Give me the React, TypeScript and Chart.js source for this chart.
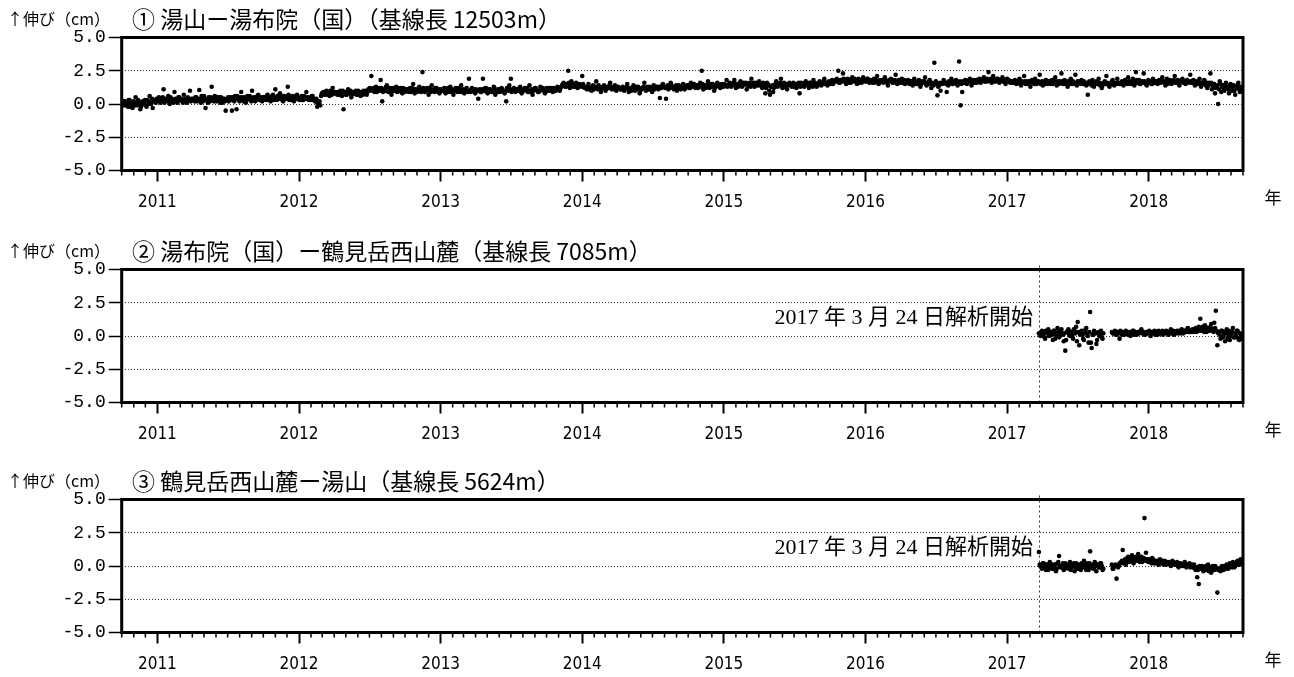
import React, { useEffect, useRef } from "react";
import { Chart, registerables } from "chart.js";

Chart.register(...registerables);

// ---------- data ----------
// Two interleaved observation series per baseline: "A" on the step days, "B" two days later.
const P1_START = "2010-10-01";
const P23_START = "2017-03-24";
const STEP_DAYS = 4;
const B_OFFSET_DAYS = 2;
const X_MIN_DATE = "2010-10-01";
const X_MAX_DATE = "2018-09-01";
const YEAR_TICKS = [2011, 2012, 2013, 2014, 2015, 2016, 2017, 2018];
const Y_TICKS = [-5, -2.5, 0, 2.5, 5];
const TITLES = [
  "① 湯山ー湯布院（国）（基線長 12503m）",
  "② 湯布院（国）ー鶴見岳西山麓（基線長 7085m）",
  "③ 鶴見岳西山麓ー湯山（基線長 5624m）",
];
const Y_UNIT = "↑伸び（cm）";
const X_UNIT = "年";
const START_NOTE = "2017 年 3 月 24 日解析開始";

const p1ValuesA: number[] = [
  0.1,-0.1,0.2,0.0,-0.2,0.3,0.1,-0.3,0.0,0.5,-0.1,0.2,-0.4,0.1,0.0,0.3,-0.2,0.2,0.6,0.0,-0.3,0.2,0.1,
  0.3,0.5,0.1,0.4,1.1,0.2,0.3,0.6,0.0,0.4,0.2,0.9,0.3,0.1,0.5,0.3,0.2,0.7,0.4,0.1,0.3,1.0,0.4,
  0.4,0.2,0.5,0.3,1.05,0.1,0.4,0.6,-0.3,0.3,0.5,0.2,1.3,0.4,0.6,0.2,0.5,0.3,0.5,0.1,0.4,-0.5,0.3,
  0.2,0.5,-0.5,0.3,0.6,-0.4,0.4,0.2,0.9,0.5,0.3,0.1,0.6,0.4,0.3,1.0,0.5,0.2,0.4,0.7,0.3,0.5,0.4,
  0.5,0.3,0.7,0.4,0.2,0.6,0.5,1.1,0.3,0.4,0.8,0.5,0.2,0.6,0.4,1.3,0.3,0.5,0.6,0.2,0.4,0.7,0.5,
  0.4,0.6,0.3,0.5,0.9,0.4,0.5,0.3,0.6,0.4,0.2,-0.2,0.1,-0.1,0.8,0.9,0.7,1.0,0.8,0.6,0.9,1.2,0.8,
  0.9,0.7,0.8,1.0,0.6,-0.4,0.9,0.7,1.1,0.8,0.5,0.9,0.8,1.0,0.7,0.9,0.6,0.8,1.0,0.9,0.7,1.1,1.2,
  2.1,1.1,0.9,1.3,1.0,1.2,1.8,0.2,1.1,1.0,1.4,0.9,1.2,0.7,1.0,1.1,1.3,0.9,1.0,1.2,0.8,1.1,1.0,
  1.1,0.9,1.2,1.0,1.5,0.8,1.1,1.0,1.3,0.9,2.4,1.1,1.0,1.2,0.7,1.1,1.4,1.0,0.9,1.2,1.1,0.8,1.0,
  1.0,1.2,0.8,1.1,0.9,1.3,1.0,0.7,1.1,1.0,1.2,0.9,1.4,1.0,0.8,1.1,1.0,1.9,0.9,1.2,1.1,0.8,1.0,
  0.4,1.1,0.9,1.9,1.0,1.2,0.8,1.1,1.0,0.9,1.3,0.7,1.0,1.1,0.9,1.2,1.0,0.8,0.2,1.1,1.4,1.9,1.0,
  1.2,0.9,1.1,1.0,1.3,0.8,1.0,1.2,1.1,0.9,1.4,1.0,0.7,1.1,1.2,1.0,0.9,1.3,1.1,1.0,0.8,1.2,1.1,
  1.0,1.2,0.9,1.1,1.0,1.3,1.1,1.2,1.4,1.6,1.3,1.5,2.5,1.2,1.7,1.4,1.3,1.6,1.2,1.5,1.4,2.1,1.3,
  1.3,1.1,1.5,1.2,1.0,1.4,1.2,1.7,1.1,1.3,0.9,1.2,1.4,1.0,1.3,1.2,1.6,1.1,1.2,1.4,1.0,1.3,1.2,
  1.1,1.3,1.0,1.2,1.5,0.9,1.2,1.1,1.4,1.0,1.2,1.3,0.8,1.1,1.2,1.6,1.0,1.3,1.1,1.2,0.9,1.4,1.2,
  1.3,1.1,0.45,1.2,1.5,1.3,0.4,1.4,1.2,1.6,1.3,1.1,1.3,1.0,1.4,1.2,1.3,1.5,1.1,1.3,1.4,1.2,1.6,
  1.3,1.5,1.2,1.4,1.3,1.6,2.5,1.1,1.4,1.3,1.7,1.2,1.4,1.5,1.0,1.3,1.6,1.4,1.2,1.5,1.3,1.4,1.8,
  1.4,1.6,1.3,1.5,1.8,1.2,1.5,1.4,1.7,1.3,1.6,1.5,1.1,1.4,1.6,1.9,1.5,1.3,1.6,1.4,1.7,1.5,1.2,
  1.5,0.8,1.6,1.4,0.7,1.3,0.9,1.4,1.7,1.3,1.5,1.9,1.2,1.6,1.4,1.1,1.5,1.5,1.3,1.6,1.4,1.2,1.5,
  0.8,1.6,1.5,1.3,1.7,1.5,1.2,1.6,1.4,1.8,1.5,1.3,1.6,1.7,1.4,1.5,1.9,1.6,1.4,1.7,1.5,1.8,1.6,
  1.7,1.9,2.5,1.6,1.8,2.3,1.7,1.5,1.9,1.8,1.6,2.0,1.7,1.8,1.5,1.9,1.7,1.6,2.0,1.8,1.7,1.9,1.6,
  1.8,1.6,1.9,1.7,2.1,1.5,1.8,1.7,1.6,2.0,1.7,1.4,1.8,1.9,1.6,1.7,2.2,1.5,1.8,1.6,1.9,1.7,1.5,
  1.6,1.8,1.5,1.7,1.4,1.9,1.6,1.5,1.8,1.3,1.7,1.6,2.0,1.4,1.6,1.8,1.2,1.5,3.1,1.7,0.65,1.4,1.0,
  1.5,1.8,1.6,0.9,1.4,1.7,1.9,1.5,1.6,1.8,1.4,3.2,-0.1,0.9,1.6,1.8,1.5,1.7,1.9,1.4,1.7,1.6,1.8,
  1.7,1.9,1.6,1.8,2.0,1.7,1.9,2.4,1.8,1.6,2.1,1.7,1.8,1.9,1.6,1.8,2.0,1.7,1.5,1.9,1.8,1.6,1.7,
  1.6,1.8,1.5,1.7,1.9,1.4,1.6,2.1,1.5,1.7,1.6,1.3,1.8,1.6,1.9,1.5,1.7,2.2,1.6,1.4,1.7,1.8,1.5,
  1.7,1.5,1.8,1.6,2.0,1.4,1.6,1.7,2.3,1.5,1.8,1.6,1.3,1.7,1.9,1.5,1.6,2.2,1.4,1.7,1.6,1.8,1.5,
  1.6,1.4,0.7,1.7,1.5,1.8,1.3,1.6,1.5,1.9,1.4,1.2,1.6,1.7,2.1,1.5,1.3,1.6,1.8,1.4,1.5,1.9,1.6,
  1.5,1.7,1.4,1.8,1.6,2.0,1.5,1.7,1.9,1.4,2.4,1.6,1.8,1.5,1.7,2.3,1.6,1.4,1.8,1.7,1.5,1.9,1.6,
  1.7,1.5,1.8,1.6,2.0,1.7,1.4,1.9,1.6,1.8,1.5,1.7,2.1,1.6,1.8,1.4,1.7,1.9,1.6,1.5,1.8,1.7,2.2,
  1.6,1.8,1.4,1.7,1.5,1.9,1.3,1.6,1.8,1.4,1.2,1.6,2.3,1.1,1.5,0.8,1.3,0.0,1.7,0.9,1.4,1.0,1.6,
  1.3,0.8,1.5,1.0,1.4,0.7,1.2,1.6,0.9,1.1,
];

const p1ValuesB: number[] = [
  0.0,0.2,-0.1,0.1,0.3,-0.2,0.0,0.2,-0.1,0.1,0.3,0.0,-0.2,0.2,0.1,-0.1,0.3,0.0,0.1,0.4,0.2,0.3,0.4,
  0.4,0.2,0.3,0.5,0.1,0.4,0.2,0.3,0.5,0.3,0.1,0.4,0.2,0.5,0.3,0.4,0.1,0.3,0.2,0.5,0.4,0.2,0.3,
  0.3,0.5,0.2,0.4,0.3,0.6,0.2,0.4,0.3,0.1,0.4,0.5,0.3,0.2,0.4,0.3,0.5,0.1,0.3,0.4,0.2,0.3,0.5,
  0.4,0.3,0.5,0.2,0.4,0.6,0.3,0.5,0.4,0.2,0.5,0.3,0.4,0.6,0.2,0.4,0.3,0.5,0.6,0.3,0.4,0.2,0.5,
  0.4,0.6,0.3,0.5,0.4,0.7,0.3,0.5,0.6,0.4,0.5,0.3,0.6,0.4,0.5,0.7,0.4,0.3,0.5,0.6,0.4,0.5,0.3,
  0.5,0.3,0.6,0.4,0.5,0.3,0.4,0.6,0.3,0.2,0.4,0.0,0.2,0.6,0.7,0.8,0.9,0.7,0.8,1.0,0.7,0.9,0.8,
  0.8,0.9,0.7,0.8,1.0,0.8,0.7,0.9,0.8,1.0,0.7,0.8,0.9,0.7,1.0,0.8,0.9,0.7,0.8,1.0,0.9,1.0,1.1,
  1.0,1.2,1.1,0.9,1.1,1.0,1.2,0.9,1.1,1.3,1.0,1.1,0.9,1.2,1.0,1.1,0.9,1.2,1.1,1.0,1.2,0.9,1.1,
  1.0,1.1,0.9,1.2,1.0,1.1,0.9,1.2,1.0,1.1,1.2,0.9,1.1,1.0,1.2,0.9,1.0,1.1,1.2,1.0,0.9,1.1,1.0,
  1.1,0.9,1.0,1.2,1.0,0.9,1.1,1.0,1.2,0.9,1.0,1.1,0.9,1.1,1.0,1.2,0.9,1.0,1.1,1.0,0.9,1.1,1.0,
  1.0,0.9,1.1,1.0,1.2,0.9,1.0,1.1,0.9,1.0,1.2,1.0,0.9,1.1,1.0,1.1,0.9,1.0,1.2,1.0,1.1,0.9,1.1,
  1.0,1.1,1.0,1.2,0.9,1.1,1.0,1.1,1.2,1.0,0.9,1.1,1.0,1.2,1.1,0.9,1.0,1.1,1.2,1.0,1.1,1.0,1.2,
  1.1,1.0,1.2,1.0,1.1,1.2,1.0,1.3,1.5,1.4,1.3,1.4,1.6,1.3,1.5,1.3,1.4,1.5,1.3,1.4,1.3,1.5,1.2,
  1.2,1.3,1.1,1.2,1.3,1.1,1.3,1.2,1.4,1.2,1.1,1.3,1.2,1.1,1.2,1.4,1.2,1.3,1.1,1.2,1.3,1.2,1.1,
  1.2,1.1,1.2,1.3,1.1,1.2,1.0,1.2,1.1,1.3,1.1,1.2,1.0,1.2,1.3,1.1,1.2,1.1,1.3,1.1,1.2,1.1,1.3,
  1.2,1.3,1.2,1.4,1.3,1.2,1.3,1.1,1.3,1.4,1.2,1.3,1.4,1.2,1.3,1.1,1.4,1.3,1.2,1.4,1.3,1.2,1.4,
  1.4,1.3,1.4,1.2,1.4,1.3,1.5,1.3,1.2,1.4,1.3,1.5,1.3,1.4,1.2,1.4,1.5,1.3,1.4,1.3,1.5,1.4,1.3,
  1.5,1.4,1.5,1.6,1.4,1.5,1.3,1.6,1.5,1.4,1.5,1.6,1.4,1.5,1.3,1.5,1.6,1.4,1.5,1.6,1.4,1.5,1.6,
  1.4,1.2,1.5,1.0,1.3,1.4,1.2,1.5,1.4,1.5,1.6,1.4,1.5,1.3,1.5,1.4,1.6,1.4,1.5,1.3,1.5,1.4,1.6,
  1.3,1.5,1.4,1.6,1.5,1.4,1.6,1.5,1.3,1.6,1.5,1.4,1.5,1.6,1.5,1.7,1.5,1.6,1.5,1.6,1.7,1.5,1.7,
  1.8,1.7,1.6,1.8,1.7,1.9,1.8,1.7,1.6,1.8,1.7,1.8,1.9,1.7,1.8,1.6,1.8,1.7,1.8,1.7,1.9,1.8,1.7,
  1.7,1.8,1.6,1.8,1.7,1.6,1.7,1.8,1.7,1.8,1.6,1.7,1.8,1.7,1.6,1.8,1.7,1.6,1.7,1.8,1.6,1.8,1.7,
  1.7,1.6,1.7,1.5,1.6,1.7,1.5,1.7,1.6,1.5,1.6,1.7,1.5,1.6,1.7,1.5,1.6,1.4,1.6,1.5,1.3,1.6,1.5,
  1.6,1.7,1.5,1.6,1.7,1.6,1.5,1.7,1.6,1.5,1.6,1.7,1.5,1.7,1.6,1.7,1.6,1.8,1.7,1.6,1.8,1.7,1.6,
  1.8,1.7,1.8,1.9,1.7,1.8,1.7,1.8,1.9,1.7,1.8,1.7,1.9,1.8,1.7,1.8,1.7,1.8,1.7,1.8,1.7,1.7,1.6,
  1.7,1.6,1.7,1.6,1.5,1.7,1.6,1.7,1.6,1.5,1.7,1.6,1.7,1.5,1.6,1.7,1.6,1.5,1.7,1.6,1.5,1.6,1.7,
  1.6,1.7,1.5,1.7,1.6,1.7,1.5,1.6,1.7,1.6,1.5,1.7,1.6,1.5,1.6,1.7,1.5,1.6,1.7,1.6,1.5,1.6,1.7,
  1.5,1.6,1.5,1.6,1.4,1.6,1.5,1.7,1.5,1.6,1.5,1.4,1.6,1.5,1.6,1.4,1.5,1.7,1.5,1.6,1.5,1.6,1.5,
  1.6,1.5,1.7,1.6,1.5,1.7,1.6,1.5,1.7,1.6,1.8,1.6,1.5,1.7,1.6,1.7,1.5,1.6,1.7,1.6,1.5,1.7,1.6,
  1.6,1.7,1.6,1.8,1.7,1.6,1.7,1.5,1.7,1.6,1.7,1.8,1.6,1.7,1.6,1.7,1.8,1.6,1.7,1.6,1.7,1.6,1.7,
  1.7,1.6,1.5,1.6,1.7,1.5,1.6,1.5,1.7,1.6,1.4,1.5,1.6,1.3,1.5,1.2,1.4,1.1,1.5,1.3,1.2,1.4,1.3,
  1.1,1.4,1.2,1.3,1.0,1.3,1.4,1.1,1.3,1.2,
];

const p2ValuesA: (number | null)[] = [
  0.2,0.0,0.4,0.1,-0.2,0.3,0.5,0.0,0.2,-0.3,0.4,0.1,0.6,-0.1,0.3,0.2,-0.4,-1.1,0.3,0.5,0.0,
  0.2,-0.2,0.4,0.7,1.05,-0.7,0.3,0.1,-0.3,0.5,0.2,-0.5,1.8,-0.9,0.1,0.3,-0.6,0.2,0.0,0.4,-0.2,
  null,null,null,null,null,
  0.3,0.2,0.4,0.1,0.3,-0.2,0.2,0.3,0.1,0.4,0.2,0.3,0.0,0.2,0.4,0.3,0.1,0.2,0.3,0.5,0.2,0.1,0.3,0.2,0.4,0.0,
  0.3,0.2,0.1,0.3,0.4,0.2,0.3,0.1,0.2,0.4,0.3,0.2,0.5,0.3,0.1,0.3,0.4,0.2,0.3,0.5,0.2,0.4,0.3,0.6,0.3,0.4,
  0.5,0.3,0.6,0.4,0.7,1.3,0.4,0.5,0.8,0.3,0.6,0.4,0.9,0.5,1.0,1.9,-0.7,
  0.3,-0.2,0.4,0.0,-0.4,0.5,0.1,-0.3,0.2,0.6,-0.1,0.0,0.4,-0.3,0.1,-0.2,
];

const p2ValuesB: (number | null)[] = [
  0.1,0.3,0.2,-0.1,0.4,0.2,0.0,0.3,0.1,0.4,-0.2,0.2,0.3,0.0,0.5,0.1,0.2,-0.3,0.4,0.1,0.3,
  0.0,0.5,0.2,-0.4,0.3,0.1,0.4,-0.2,0.2,0.6,0.0,0.3,-0.5,0.1,0.4,0.2,-0.3,0.3,0.1,-0.1,0.2,
  null,null,null,null,null,
  0.2,0.3,0.1,0.3,0.2,0.4,0.1,0.2,0.3,0.2,0.1,0.3,0.2,0.4,0.1,0.2,0.3,0.2,0.4,0.2,0.3,0.1,0.2,0.3,0.2,0.3,
  0.2,0.4,0.2,0.1,0.3,0.2,0.4,0.2,0.3,0.2,0.1,0.3,0.2,0.4,0.3,0.2,0.3,0.4,0.2,0.3,0.4,0.3,0.5,0.3,0.4,0.3,
  0.4,0.5,0.3,0.6,0.4,0.5,0.7,0.3,0.5,0.6,0.4,0.7,0.5,0.3,0.6,0.4,0.2,
  0.1,0.4,-0.1,0.2,0.3,-0.2,0.4,0.0,0.3,-0.1,0.2,0.4,-0.2,0.2,0.0,0.1,
];

const p3ValuesA: (number | null)[] = [
  1.05,0.0,-0.2,0.2,-0.1,0.1,-0.3,0.3,0.0,-0.2,0.1,-0.4,0.2,0.75,-0.1,0.0,-0.3,0.2,0.1,-0.2,0.3,
  -0.1,0.0,-0.4,0.2,-0.2,0.1,-0.3,0.0,0.4,-0.1,0.2,-0.3,1.1,0.0,-0.2,0.3,-0.4,0.1,-0.1,0.2,-0.3,
  null,null,null,null,null,
  0.1,-0.2,0.0,-0.95,-0.1,0.2,
  0.3,1.2,0.4,0.1,0.6,0.3,0.5,0.8,0.2,0.6,0.4,0.9,0.3,0.7,0.5,3.6,1.0,0.4,
  0.5,0.3,0.6,0.2,0.4,0.3,0.1,0.5,0.3,0.2,0.4,0.1,0.3,0.2,0.0,0.4,0.2,0.1,0.3,-0.1,0.2,0.1,0.0,0.3,-0.1,0.1,0.2,0.0,
  -0.1,0.1,-0.3,-0.85,-1.35,-0.2,0.0,-0.4,-0.1,-0.3,0.1,-0.2,-0.5,0.0,-0.3,-0.1,-2.0,
  -0.2,-0.4,0.0,-0.3,-0.1,0.1,-0.2,0.2,0.0,0.3,-0.1,0.2,0.4,0.1,0.5,0.3,
];

const p3ValuesB: (number | null)[] = [
  0.1,-0.1,0.2,0.0,-0.3,0.1,-0.1,0.2,-0.2,0.0,0.1,-0.2,0.3,0.0,-0.1,0.2,-0.2,0.0,-0.1,0.1,-0.3,
  0.0,0.2,-0.1,0.1,-0.2,0.0,0.2,-0.1,0.1,-0.3,0.0,0.2,-0.1,0.1,-0.2,0.0,0.1,-0.1,0.2,0.0,-0.2,
  null,null,null,null,null,
  -0.2,null,0.1,null,0.0,0.2,
  0.4,0.2,0.5,0.3,0.7,0.4,0.6,0.3,0.5,0.7,0.4,0.6,0.5,0.3,0.6,0.4,0.5,0.3,
  0.4,0.2,0.5,0.3,0.2,0.4,0.3,0.2,0.4,0.1,0.3,0.2,0.3,0.1,0.2,0.3,0.1,0.2,0.0,0.2,0.1,0.0,0.2,0.1,0.0,0.1,-0.1,0.1,
  0.0,-0.2,-0.1,-0.3,0.0,-0.2,-0.1,-0.3,0.0,-0.2,-0.4,-0.1,-0.2,-0.3,0.0,-0.2,-0.3,
  -0.3,-0.1,-0.2,0.0,-0.2,0.0,-0.1,0.1,-0.1,0.2,0.0,0.3,0.1,0.4,0.2,0.4,
];

// ---------- helpers ----------
const DAY = 86400000;
function parseDate(s: string) {
  const [y, m, d] = s.split("-").map(Number);
  return Date.UTC(y, m - 1, d);
}
function decYear(ms: number) {
  const y = new Date(ms).getUTCFullYear();
  const a = Date.UTC(y, 0, 1);
  const b = Date.UTC(y + 1, 0, 1);
  return y + (ms - a) / (b - a);
}
function toPoints(start: string, values: (number | null)[], offsetDays: number) {
  const t0 = parseDate(start) + offsetDays * DAY;
  const pts: { x: number; y: number }[] = [];
  values.forEach((v, i) => {
    if (v === null) return;
    pts.push({ x: decYear(t0 + i * STEP_DAYS * DAY), y: v });
  });
  return pts;
}
const X_MIN = decYear(parseDate(X_MIN_DATE));
const X_MAX = decYear(parseDate(X_MAX_DATE));
const START_X = decYear(parseDate(P23_START));
const MINOR_TICKS: number[] = [];
for (let y = 2010; y <= 2018; y++) {
  for (let m = 1; m < 12; m++) {
    const v = decYear(Date.UTC(y, m, 1));
    if (v >= X_MIN - 1e-6 && v <= X_MAX + 1e-6) MINOR_TICKS.push(v);
  }
}

const FONT_CJK = "'Noto Sans CJK JP', 'Noto Sans', sans-serif";
const FONT_YEAR = "'Liberation Sans Narrow', 'DejaVu Sans Condensed', 'Liberation Sans', sans-serif";
const FONT_YTICK = "'Liberation Mono', 'DejaVu Sans Mono', monospace";
const FONT_NOTE = "'Liberation Serif', 'DejaVu Serif', 'Noto Sans CJK JP', serif";

const CANVAS_W = 1294;
const CANVAS_H = 215;
const AREA_TOP = 37.5;
const AREA_BOTTOM = 170.5;
const AREA_LEFT = 121.7;
const AREA_RIGHT = 1243;

function makeOverlay(title: string, showStart: boolean) {
  return {
    id: "overlay",
    beforeDatasetsDraw(chart: any) {
      if (!showStart) return;
      const { ctx, chartArea: a, scales } = chart;
      const px = Math.round(scales.x.getPixelForValue(START_X)) + 0.5;
      ctx.save();
      ctx.strokeStyle = "#333";
      ctx.lineWidth = 1;
      ctx.setLineDash([2, 3]);
      ctx.beginPath();
      ctx.moveTo(px, a.top - 4);
      ctx.lineTo(px, a.bottom);
      ctx.stroke();
      ctx.restore();
    },
    afterDatasetsDraw(chart: any) {
      const { ctx, chartArea: a, scales } = chart;
      const x = scales.x;
      ctx.save();
      // frame
      ctx.strokeStyle = "#000";
      ctx.lineWidth = 3;
      ctx.setLineDash([]);
      ctx.strokeRect(a.left, a.top, a.right - a.left, a.bottom - a.top);
      // minor monthly ticks
      ctx.lineWidth = 1.5;
      ctx.beginPath();
      MINOR_TICKS.forEach((v) => {
        const px = x.getPixelForValue(v);
        ctx.moveTo(px, a.bottom);
        ctx.lineTo(px, a.bottom + 5);
      });
      ctx.stroke();
      // texts
      ctx.fillStyle = "#000";
      ctx.textBaseline = "middle";
      ctx.textAlign = "left";
      ctx.font = `16px ${FONT_CJK}`;
      ctx.fillText(Y_UNIT, 7, a.top - 19);
      ctx.font = `23px ${FONT_CJK}`;
      ctx.fillText(title, 132, a.top - 18.5);
      ctx.font = `17px ${FONT_CJK}`;
      ctx.textAlign = "center";
      ctx.fillText(X_UNIT, 1273, a.bottom + 27.5);
      if (showStart) {
        ctx.font = `22px ${FONT_NOTE}`;
        ctx.textAlign = "right";
        ctx.fillText(START_NOTE, x.getPixelForValue(START_X) - 6, a.top + 49);
      }
      ctx.restore();
    },
  };
}

function pointDataset(data: { x: number; y: number }[]) {
  return {
    data,
    pointRadius: 2.3,
    pointHoverRadius: 2.3,
    pointBackgroundColor: "#000",
    pointBorderWidth: 0,
    showLine: false,
  };
}

function makeConfig(series: { x: number; y: number }[][], title: string, showStart: boolean): any {
  return {
    type: "scatter",
    data: { datasets: series.map(pointDataset) },
    options: {
      animation: false,
      responsive: false,
      maintainAspectRatio: false,
      events: [],
      layout: { padding: { left: 0, right: CANVAS_W - AREA_RIGHT, top: AREA_TOP, bottom: 0 } },
      plugins: {
        legend: { display: false },
        tooltip: { enabled: false },
        title: { display: false },
      },
      scales: {
        x: {
          type: "linear",
          min: X_MIN,
          max: X_MAX,
          afterBuildTicks: (s: any) => {
            s.ticks = YEAR_TICKS.map((v) => ({ value: v }));
          },
          afterFit: (s: any) => {
            s.height = CANVAS_H - AREA_BOTTOM;
          },
          grid: {
            display: true,
            drawOnChartArea: false,
            drawTicks: true,
            tickLength: 11,
            tickWidth: 2,
            tickColor: "#000",
            color: "#000",
          },
          border: { display: false },
          ticks: {
            autoSkip: false,
            maxRotation: 0,
            padding: 11,
            color: "#000",
            font: { family: FONT_YEAR, size: 17 },
            callback: (v: any) => String(v),
          },
        },
        y: {
          type: "linear",
          min: -5,
          max: 5,
          afterBuildTicks: (s: any) => {
            s.ticks = Y_TICKS.map((v) => ({ value: v }));
          },
          afterFit: (s: any) => {
            s.width = AREA_LEFT;
          },
          grid: {
            display: true,
            drawOnChartArea: true,
            drawTicks: true,
            tickLength: 13,
            lineWidth: 1,
            color: (c: any) =>
              c.tick && Math.abs(c.tick.value) === 5 ? "rgba(0,0,0,0)" : "#333",
            tickColor: "#000",
            tickWidth: 1.5,
            tickBorderDash: [],
          },
          border: { display: false, dash: [1, 2] },
          ticks: {
            padding: 3,
            color: "#000",
            font: { family: FONT_YTICK, size: 18 },
            callback: (v: any) => Number(v).toFixed(1),
          },
        },
      },
    },
    plugins: [makeOverlay(title, showStart)],
  };
}

function Panel({ series, title, showStart, top }: any) {
  const ref = useRef<HTMLCanvasElement>(null);
  useEffect(() => {
    if (!ref.current) return;
    const chart = new Chart(ref.current, makeConfig(series, title, showStart));
    return () => chart.destroy();
  }, []);
  return (
    <canvas
      ref={ref}
      width={CANVAS_W}
      height={CANVAS_H}
      style={{ position: "absolute", left: 0, top, width: CANVAS_W, height: CANVAS_H, display: "block" }}
    />
  );
}

export default function App() {
  const s1 = [toPoints(P1_START, p1ValuesA, 0), toPoints(P1_START, p1ValuesB, B_OFFSET_DAYS)];
  const s2 = [toPoints(P23_START, p2ValuesA, 0), toPoints(P23_START, p2ValuesB, B_OFFSET_DAYS)];
  const s3 = [toPoints(P23_START, p3ValuesA, 0), toPoints(P23_START, p3ValuesB, B_OFFSET_DAYS)];
  return (
    <div
      style={{
        position: "absolute",
        left: 0,
        top: 0,
        width: CANVAS_W,
        height: 677,
        background: "#fff",
        overflow: "hidden",
      }}
    >
      <Panel series={s1} title={TITLES[0]} showStart={false} top={0} />
      <Panel series={s2} title={TITLES[1]} showStart={true} top={232} />
      <Panel series={s3} title={TITLES[2]} showStart={true} top={462} />
    </div>
  );
}
